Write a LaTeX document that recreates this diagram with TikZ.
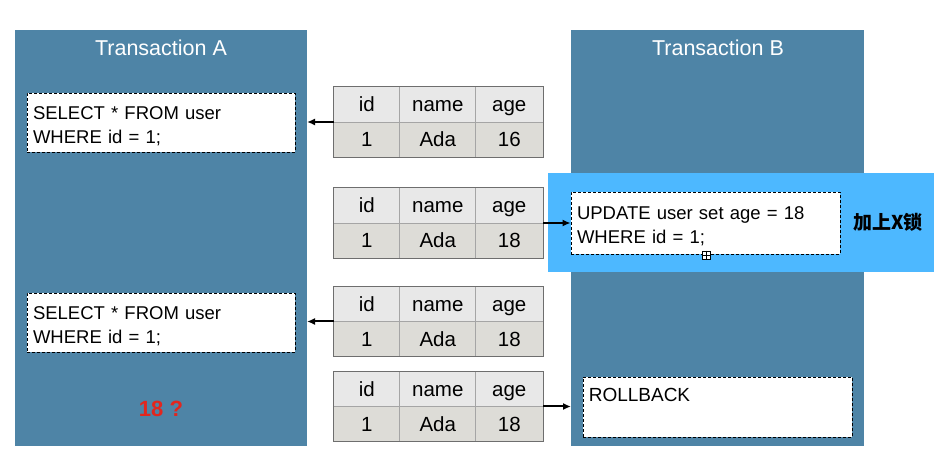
\documentclass[tikz,border=0pt]{standalone}
\usepackage{fontspec}
\setmainfont{Liberation Sans}
\newfontfamily\cjk{Noto Sans CJK SC}
\usetikzlibrary{arrows.meta,calc}
\definecolor{colA}{RGB}{78,132,166}
\definecolor{hilite}{RGB}{77,184,255}
\definecolor{hdrc}{RGB}{232,232,232}
\definecolor{rowc}{RGB}{221,220,215}
\definecolor{tline}{RGB}{165,165,165}
\definecolor{tout}{RGB}{110,110,110}
\definecolor{redq}{RGB}{226,38,30}
\newcommand\lift{\rule{0pt}{19.5pt}}
\tikzset{
  column/.style={fill=colA,draw=none},
  title/.style={text=white,font=\fontsize{21.5}{24}\selectfont},
  sqlbox/.style={draw=black,dashed,dash pattern=on 3pt off 2pt,fill=white,line width=0.8pt,
     minimum width=268pt,minimum height=59pt,text width=256pt,align=left,inner sep=6pt,
     font=\fontsize{18.5}{24}\selectfont},
  tbl/.style={minimum width=209pt,minimum height=70pt,inner sep=0pt,draw=none},
  cell/.style={font=\fontsize{20.5}{22}\selectfont,inner sep=0pt,text=black,
     text height=14pt,text depth=4pt},
  arr/.style={-{Latex[length=8pt,width=7pt]},line width=2pt},
}
\newcommand\dbtable[3]{%
  \node[tbl] (#1) at (438.5,#2) {};
  \fill[hdrc] (#1.north west) rectangle (#1.east);
  \fill[rowc] (#1.west) rectangle (#1.south east);
  \draw[tline,line width=0.8pt] (#1.west) -- (#1.east);
  \draw[tline,line width=0.8pt] ([xshift=66pt]#1.north west) -- ([xshift=66pt]#1.south west);
  \draw[tline,line width=0.8pt] ([xshift=142pt]#1.north west) -- ([xshift=142pt]#1.south west);
  \draw[tout,line width=1.2pt] (#1.north west) rectangle (#1.south east);
  \node[cell] (#1-h1) at ([xshift=33pt,yshift=15pt]#1.west) {id};
  \node[cell] (#1-h2) at ([xshift=104pt,yshift=15pt]#1.west) {name};
  \node[cell] (#1-h3) at ([xshift=175.5pt,yshift=15pt]#1.west) {age};
  \node[cell] (#1-v1) at ([xshift=33pt,yshift=-20pt]#1.west) {1};
  \node[cell] (#1-v2) at ([xshift=104pt,yshift=-20pt]#1.west) {Ada};
  \node[cell] (#1-v3) at ([xshift=175.5pt,yshift=-20pt]#1.west) {#3};
}
\begin{document}
\begin{tikzpicture}[x=1pt,y=1pt]
\useasboundingbox (0,0) rectangle (946,464);
\fill[white] (0,0) rectangle (946,464);
% columns
\fill[column] (15,18) rectangle (307,434);
\fill[column] (571,18) rectangle (864,434);
\node[title] (tA) at (161,416) {Transaction A};
\node[title] (tB) at (718,416) {Transaction B};
% highlight
\fill[hilite] (548,192) rectangle (934,291);
% A boxes
\node[sqlbox] (s1) at (161,341.5) {\lift SELECT * FROM user\\WHERE id = 1;};
\node[sqlbox] (s2) at (161,141.5) {\lift SELECT * FROM user\\WHERE id = 1;};
\node[text=redq,font=\bfseries\fontsize{22}{24}\selectfont] (q) at (161,55) {18 ?};
% B boxes
\node[sqlbox,minimum width=269pt,minimum height=62pt,text width=257pt] (up) at (705.5,241) {\lift UPDATE user set age = 18\\WHERE id = 1;};
\node[font=\cjk\bfseries\fontsize{19}{22}\selectfont] (lock) at (888,242) {加上X锁};
\node[draw=black,fill=white,line width=0.6pt,minimum size=8pt,inner sep=0pt] (hdl) at (706,209) {};
\draw[line width=0.6pt] (hdl.north) -- (hdl.south) (hdl.west) -- (hdl.east);
\node[sqlbox,minimum width=269pt,minimum height=60pt,text width=257pt] (rb) at (717.5,57) {};
\node[anchor=north west,inner sep=0pt,font=\fontsize{19}{22}\selectfont] (rbt) at ([xshift=6pt,yshift=-11pt]rb.north west) {ROLLBACK};
% tables
\dbtable{t1}{342}{16}
\dbtable{t2}{241}{18}
\dbtable{t3}{142.5}{18}
\dbtable{t4}{57.5}{18}
% arrows
\coordinate (a1) at (307,342);
\coordinate (a3) at (307,142.5);
\coordinate (a4) at (571,57.5);
\draw[arr] (t1.west) -- (a1);
\draw[arr] (t2.east) -- (up.west);
\draw[arr] (t3.west) -- (a3);
\draw[arr] (t4.east) -- (a4);
\end{tikzpicture}
\end{document}
